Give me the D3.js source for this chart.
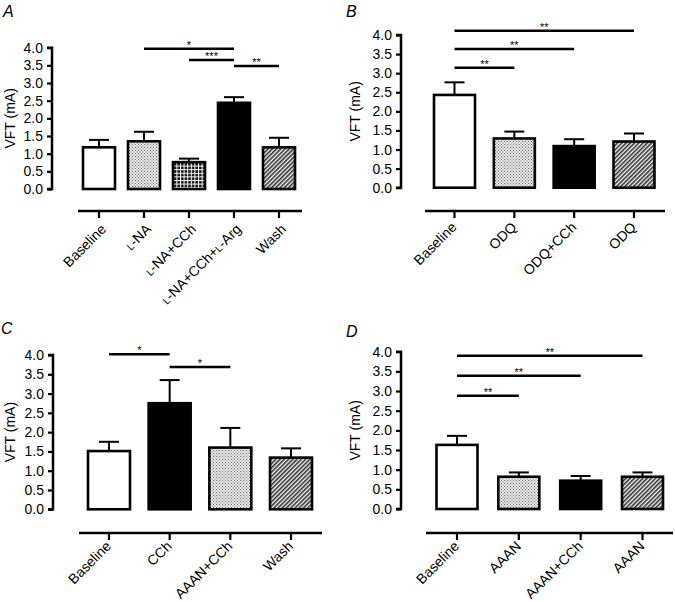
<!DOCTYPE html>
<html><head><meta charset="utf-8">
<script src="https://cdnjs.cloudflare.com/ajax/libs/d3/7.8.5/d3.min.js"></script>
<style>
html,body{margin:0;padding:0;background:#fff;}
svg{display:block;font-family:"Liberation Sans",Arial,Helvetica,sans-serif;}
text{fill:#000;}
</style></head>
<body><svg id="c" width="675" height="602"></svg>
<script>
// ---------- data ----------
const yTicks = [0.0,0.5,1.0,1.5,2.0,2.5,3.0,3.5,4.0];
const yLabel = "VFT (mA)";

const catsA = ["Baseline","L-NA","L-NA+CCh","L-NA+CCh+L-Arg","Wash"];
const meanA = [1.18,1.35,0.76,2.44,1.18];
const semA  = [0.21,0.27,0.10,0.16,0.27];
const fillA = ["white","dots","grid","black","hatch"];
const sigA  = [["L-NA","L-NA+CCh+L-Arg","*",3.97],["L-NA+CCh","L-NA+CCh+L-Arg","***",3.65],["L-NA+CCh+L-Arg","Wash","**",3.48]];

const catsB = ["Baseline","ODQ","ODQ+CCh","ODQ "];
const meanB = [2.43,1.29,1.09,1.21];
const semB  = [0.33,0.18,0.18,0.21];
const fillB = ["white","dots","black","hatch"];
const sigB  = [["Baseline","ODQ ","**",4.11],["Baseline","ODQ+CCh","**",3.63],["Baseline","ODQ","**",3.14]];

const catsC = ["Baseline","CCh","AAAN+CCh","Wash"];
const meanC = [1.51,2.75,1.60,1.34];
const semC  = [0.24,0.60,0.51,0.24];
const fillC = ["white","black","dots","hatch"];
const sigC  = [["Baseline","CCh","*",4.02],["CCh","AAAN+CCh","*",3.69]];

const catsD = ["Baseline","AAAN","AAAN+CCh","AAAN "];
const meanD = [1.63,0.82,0.72,0.82];
const semD  = [0.23,0.11,0.12,0.11];
const fillD = ["white","dots","black","hatch"];
const sigD  = [["Baseline","AAAN ","**",3.90],["Baseline","AAAN+CCh","**",3.39],["Baseline","AAAN","**",2.88]];

// ---------- layout ----------
const panels = [
  {id:"A", cats:catsA, mean:meanA, sem:semA, fill:fillA, sig:sigA,
   axX:52, y0:189, y4:47.7, c0:99, c1:279, bw:32, xa0:78, xa1:302, xaY:211, lx:3, ly:17, ylx:15, ldx:8, ldy:19},
  {id:"B", cats:catsB, mean:meanB, sem:semB, fill:fillB, sig:sigB,
   axX:401, y0:187.7, y4:35, c0:454.5, c1:634, bw:41, xa0:425, xa1:665, xaY:211, lx:346, ly:17, ylx:360, ldx:3, ldy:17},
  {id:"C", cats:catsC, mean:meanC, sem:semC, fill:fillC, sig:sigC,
   axX:53, y0:509.3, y4:355, c0:109, c1:291, bw:42, xa0:79, xa1:322, xaY:533, lx:1, ly:334, ylx:15, ldx:3, ldy:14},
  {id:"D", cats:catsD, mean:meanD, sem:semD, fill:fillD, sig:sigD,
   axX:401, y0:509, y4:351.7, c0:457, c1:642.5, bw:41, xa0:426, xa1:673, xaY:533, lx:346, ly:337, ylx:360, ldx:3, ldy:14}
];

const FS = "14px";
const svg = d3.select("#c");
const defs = svg.append("defs");
// dots pattern
const pd = defs.append("pattern").attr("id","dots").attr("patternUnits","userSpaceOnUse").attr("width",3).attr("height",3);
pd.append("rect").attr("width",3).attr("height",3).attr("fill","#ececec");
pd.append("rect").attr("x",0).attr("y",0).attr("width",1).attr("height",1).attr("fill","#666");
pd.append("rect").attr("x",1.5).attr("y",1.5).attr("width",1).attr("height",1).attr("fill","#666");
// grid pattern
const pg = defs.append("pattern").attr("id","grid").attr("patternUnits","userSpaceOnUse").attr("width",3.6).attr("height",3.6);
pg.append("rect").attr("width",3.6).attr("height",3.6).attr("fill","#111");
pg.append("rect").attr("x",0).attr("y",0).attr("width",3.6).attr("height",1).attr("fill","#fff");
pg.append("rect").attr("x",0).attr("y",0).attr("width",1).attr("height",3.6).attr("fill","#fff");
// hatch pattern
const ph = defs.append("pattern").attr("id","hatch").attr("patternUnits","userSpaceOnUse").attr("width",3).attr("height",3).attr("patternTransform","rotate(45)");
ph.append("rect").attr("width",3).attr("height",3).attr("fill","#f4f4f4");
ph.append("rect").attr("width",1.6).attr("height",3).attr("fill","#333");

function fillOf(f){ return f==="white" ? "#fff" : f==="black" ? "#000" : `url(#${f})`; }

function addLabel(sel, s){
  // small-cap "L" before hyphen
  const parts = s.trim().split(/(L(?=-))/).filter(p=>p.length);
  parts.forEach(p=>{
    const t = sel.append("tspan").text(p);
    if(p==="L") t.attr("font-size","10px");
  });
}

panels.forEach(p=>{
  const g = svg.append("g");
  const y = d3.scaleLinear().domain([0,4]).range([p.y0,p.y4]);
  const x = d3.scalePoint().domain(p.cats).range([p.c0,p.c1]);

  // panel letter
  g.append("text").attr("x",p.lx).attr("y",p.ly).attr("font-size","16px").attr("font-style","italic").text(p.id);

  // y axis
  const ya = g.append("g").attr("transform",`translate(${p.axX},0)`)
    .call(d3.axisLeft(y).tickValues(yTicks).tickFormat(d3.format(".1f")).tickSize(5).tickPadding(4));
  ya.select(".domain").attr("stroke","#000").attr("stroke-width",2.5).attr("d",`M-5,${p.y4}H0V${p.y0}H-5`);
  ya.selectAll(".tick line").attr("stroke","#000").attr("stroke-width",2.2);
  ya.selectAll(".tick text").attr("font-size",FS).attr("fill","#000").attr("font-family","Liberation Sans, Arial, sans-serif");

  // y label
  g.append("text").attr("transform",`translate(${p.ylx},${(p.y0+p.y4)/2}) rotate(-90)`)
    .attr("text-anchor","middle").attr("font-size",FS).text(yLabel);

  // x axis
  g.append("line").attr("x1",p.xa0).attr("x2",p.xa1).attr("y1",p.xaY).attr("y2",p.xaY).attr("stroke","#000").attr("stroke-width",2.5);
  g.selectAll(".xt").data(p.cats).enter().append("line")
    .attr("x1",d=>x(d)).attr("x2",d=>x(d)).attr("y1",p.xaY).attr("y2",p.xaY+7).attr("stroke","#000").attr("stroke-width",2.2);
  g.selectAll(".xl").data(p.cats).enter().append("text")
    .attr("transform",d=>`translate(${x(d)+p.ldx},${p.xaY+p.ldy}) rotate(-45)`)
    .attr("text-anchor","end").attr("font-size",FS)
    .each(function(d){ addLabel(d3.select(this), d); });

  // error bars (upper only)
  p.cats.forEach((c,i)=>{
    const cx = x(c), top = y(p.mean[i]+p.sem[i]);
    g.append("line").attr("x1",cx).attr("x2",cx).attr("y1",y(p.mean[i])).attr("y2",top).attr("stroke","#000").attr("stroke-width",2);
    g.append("line").attr("x1",cx-10).attr("x2",cx+10).attr("y1",top).attr("y2",top).attr("stroke","#000").attr("stroke-width",2);
  });
  // bars
  g.selectAll(".bar").data(p.cats).enter().append("rect")
    .attr("x",d=>x(d)-p.bw/2).attr("width",p.bw)
    .attr("y",(d,i)=>y(p.mean[i])).attr("height",(d,i)=>y(0)-y(p.mean[i]))
    .attr("fill",(d,i)=>fillOf(p.fill[i])).attr("stroke","#000").attr("stroke-width",2.6);

  // significance lines
  p.sig.forEach(s=>{
    const a = x(s[0]), b = x(s[1]), yy = y(s[3]);
    g.append("line").attr("x1",a).attr("x2",b).attr("y1",yy).attr("y2",yy).attr("stroke","#000").attr("stroke-width",2.5);
    g.append("text").attr("x",(a+b)/2).attr("y",yy).attr("text-anchor","middle").attr("font-size","11px").attr("fill","#000").text(s[2]);
  });
});
</script></body></html>
